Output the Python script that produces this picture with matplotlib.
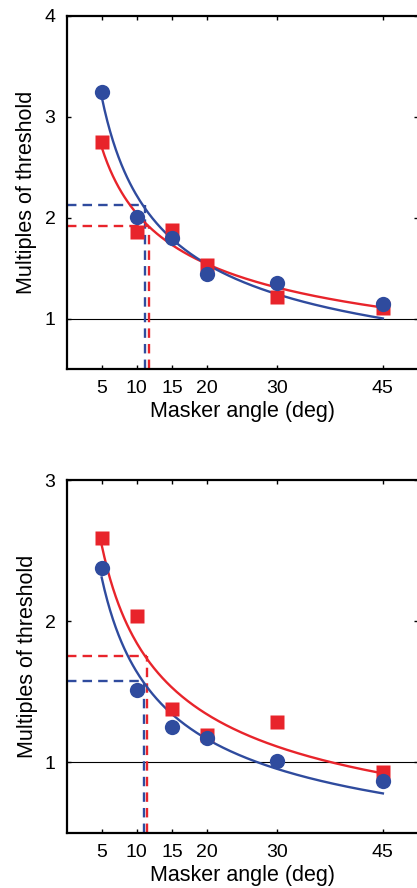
'''
Masking threshold vs masker angle, two conditions
'''

import numpy as np
import matplotlib
matplotlib.use("Agg")
import matplotlib.pyplot as plt

plt.rcParams['font.family'] = ['Liberation Sans', 'DejaVu Sans']

RED = '#e8242b'
BLUE = '#2f4b9e'

angles = [5, 10, 15, 20, 30, 45]
xtick_labels = ['5', '10', '15', '20', '30', '45']

# top panel
top_blue = [3.25, 2.01, 1.80, 1.44, 1.35, 1.14]
top_red = [2.75, 1.86, 1.88, 1.53, 1.21, 1.10]
top_blue_fit = (3.20, -0.529)   # y = a * (x/5)**b
top_red_fit = (2.70, -0.405)
top_blue_thresh = (11.1, 2.13)
top_red_thresh = (11.7, 1.92)

# bottom panel
bot_blue = [2.38, 1.51, 1.25, 1.17, 1.01, 0.865]
bot_red = [2.59, 2.035, 1.38, 1.19, 1.286, 0.927]
bot_blue_fit = (2.31, -0.495)
bot_red_fit = (2.54, -0.462)
bot_blue_thresh = (11.07, 1.577)
bot_red_thresh = (11.4, 1.75)


def draw_panel(ax, blue, red, blue_fit, red_fit, blue_thr, red_thr, ytop):
    ax.set_xlim(0, 50)
    ax.set_ylim(0.5, ytop)

    ax.axhline(1, color='black', lw=0.8, zorder=1)

    # threshold guides
    for (tx, ty), col in [(blue_thr, BLUE), (red_thr, RED)]:
        ax.plot([0, tx], [ty, ty], '--', color=col, lw=1.7, dashes=(4, 2.6), zorder=2)
        ax.plot([tx, tx], [0.5, ty], '--', color=col, lw=1.7, dashes=(4, 2.6), zorder=2)

    xs = np.linspace(angles[0], angles[-1], 200)
    for (a, b), col in [(red_fit, RED), (blue_fit, BLUE)]:
        ax.plot(xs, a * (xs / angles[0]) ** b, color=col, lw=1.7, zorder=3)

    ax.plot(angles, red, 's', color=RED, ms=9.5, mec='none', zorder=4)
    ax.plot(angles, blue, 'o', color=BLUE, ms=11, mec='none', zorder=5)

    ax.set_xticks(angles)
    ax.set_xticklabels(xtick_labels)
    ax.set_yticks(range(1, int(ytop) + 1))
    ax.tick_params(direction='in', length=3, width=1, labelsize=14,
                   top=True, right=True, pad=8)
    for sp in ax.spines.values():
        sp.set_linewidth(1.6)
    ax.set_xlabel('Masker angle (deg)', fontsize=15.5, labelpad=3)
    ax.set_ylabel('Multiples of threshold', fontsize=15.5, labelpad=5)


fig = plt.figure(figsize=(4.17, 8.88), dpi=100)
ax1 = fig.add_axes([0.1595, 0.5845, 0.843, 0.3975])
ax2 = fig.add_axes([0.1595, 0.0623, 0.843, 0.397])

draw_panel(ax1, top_blue, top_red, top_blue_fit, top_red_fit,
           top_blue_thresh, top_red_thresh, 4)
draw_panel(ax2, bot_blue, bot_red, bot_blue_fit, bot_red_fit,
           bot_blue_thresh, bot_red_thresh, 3)

fig.savefig('out.png', dpi=100)
